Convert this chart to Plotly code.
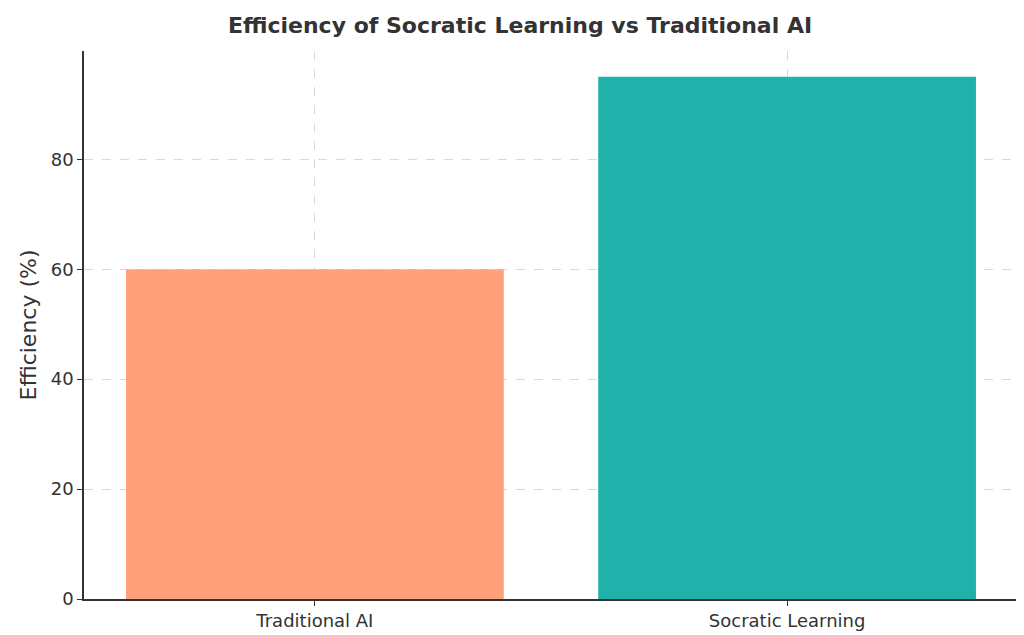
import plotly.graph_objects as go

categories = ["Traditional AI", "Socratic Learning"]
values = [60, 95]
colors = ["#FFA07A", "#20B2AA"]

fig = go.Figure(go.Bar(x=[0, 1], y=values, marker_color=colors, width=0.8,
                       marker_line_width=0))
fig.update_layout(
    width=1024, height=635,
    margin=dict(l=76, r=14, t=43, b=41),
    plot_bgcolor="white", paper_bgcolor="white",
    font=dict(family="DejaVu Sans", size=18, color="#333333"),
    title=dict(text="<b>Efficiency of Socratic Learning vs Traditional AI</b>",
               x=0.5, xanchor="center", y=0.985, yanchor="top",
               font=dict(size=22, color="#333333")),
    showlegend=False,
)
fig.update_xaxes(range=[-0.489, 1.489], tickvals=[0, 1], ticktext=categories,
                 showline=True, linecolor="#333333", linewidth=1.5,
                 ticks="outside", ticklen=5, tickcolor="#333333",
                 showgrid=True, gridcolor="#d9d9d9", griddash="dash", gridwidth=1)
fig.update_yaxes(range=[0, 99.7], tickvals=[0, 20, 40, 60, 80],
                 title=dict(text="Efficiency (%)", standoff=8),
                 showline=True, linecolor="#333333", linewidth=1.5,
                 ticks="outside", ticklen=5, tickcolor="#333333",
                 showgrid=True, gridcolor="#d9d9d9", griddash="dash", gridwidth=1,
                 zeroline=False)
fig.write_html("out.html")
